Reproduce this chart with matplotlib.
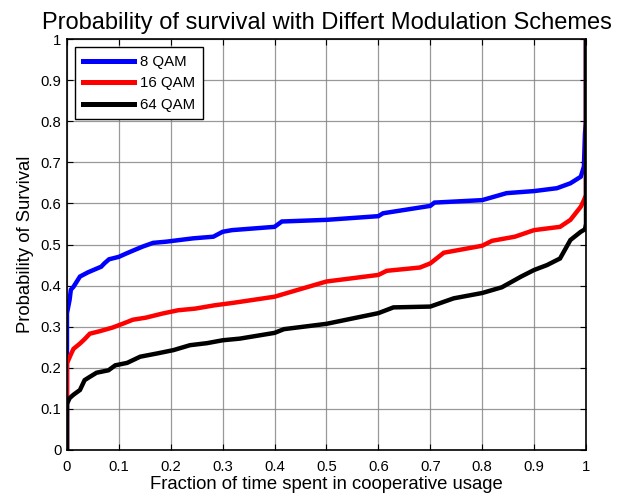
import numpy as np
import matplotlib
matplotlib.use("Agg")
import matplotlib.pyplot as plt

plt.rcParams['font.family'] = ['Liberation Sans', 'DejaVu Sans']

# survival curves
x_8qam = [0, 0, 0.005, 0.0075, 0.0125, 0.025, 0.04, 0.051, 0.066, 0.072, 0.081, 0.1,
          0.114, 0.127, 0.146, 0.166, 0.192, 0.243, 0.282, 0.3, 0.318, 0.4, 0.414,
          0.5, 0.6, 0.609, 0.7, 0.708, 0.8, 0.847, 0.9, 0.944, 0.97, 0.99, 0.996,
          0.998, 1, 1]
y_8qam = [0, 0.333, 0.365, 0.39, 0.397, 0.422, 0.432, 0.438, 0.446, 0.454, 0.464, 0.470,
          0.478, 0.485, 0.495, 0.504, 0.507, 0.515, 0.519, 0.531, 0.535, 0.543, 0.556,
          0.560, 0.569, 0.576, 0.594, 0.602, 0.608, 0.625, 0.630, 0.637, 0.649, 0.665, 0.69,
          0.77, 0.8, 1.0]

x_16qam = [0, 0, 0.008, 0.0125, 0.025, 0.035, 0.044, 0.063, 0.088, 0.107, 0.127, 0.152,
           0.184, 0.214, 0.247, 0.284, 0.32, 0.4, 0.443, 0.5, 0.6, 0.616, 0.68, 0.7,
           0.726, 0.8, 0.819, 0.863, 0.9, 0.95, 0.97, 0.99, 0.996, 1, 1]
y_16qam = [0, 0.211, 0.234, 0.246, 0.259, 0.271, 0.283, 0.289, 0.298, 0.307, 0.317, 0.322,
           0.332, 0.340, 0.344, 0.352, 0.358, 0.373, 0.389, 0.410, 0.426, 0.436, 0.444, 0.454,
           0.480, 0.497, 0.509, 0.519, 0.535, 0.543, 0.560, 0.592, 0.608, 0.62, 1.0]

x_64qam = [0, 0, 0.005, 0.012, 0.025, 0.034, 0.044, 0.057, 0.08, 0.093, 0.116, 0.141,
           0.174, 0.205, 0.237, 0.27, 0.3, 0.333, 0.4, 0.418, 0.5, 0.6, 0.629, 0.7,
           0.745, 0.8, 0.838, 0.875, 0.9, 0.925, 0.95, 0.97, 0.99, 0.998, 1, 1]
y_64qam = [0, 0.112, 0.126, 0.134, 0.146, 0.170, 0.178, 0.188, 0.194, 0.206, 0.212, 0.227,
           0.235, 0.243, 0.255, 0.260, 0.267, 0.271, 0.285, 0.294, 0.307, 0.333, 0.347, 0.349,
           0.369, 0.382, 0.396, 0.422, 0.438, 0.450, 0.466, 0.511, 0.531, 0.537, 0.55, 1.0]

labels = ['8 QAM', '16 QAM', '64 QAM']
colors = ['#0000ff', '#ff0000', '#000000']
tick_text = ['0', '0.1', '0.2', '0.3', '0.4', '0.5', '0.6', '0.7', '0.8', '0.9', '1']

fig = plt.figure(figsize=(6.23, 4.99), dpi=100)
ax = fig.add_axes([0.1075, 0.0982, 0.8331, 0.8236])

for xs, ys, lab, c in zip([x_8qam, x_16qam, x_64qam], [y_8qam, y_16qam, y_64qam], labels, colors):
    ax.plot(xs, ys, color=c, lw=3.2, label=lab, solid_joinstyle='miter')

ax.set_xlim(0, 1)
ax.set_ylim(0, 1)
ax.set_xticks(np.arange(0, 1.01, 0.1))
ax.set_yticks(np.arange(0, 1.01, 0.1))
ax.set_xticklabels(tick_text)
ax.set_yticklabels(tick_text)
ax.tick_params(direction='in', top=True, right=True, labelsize=10.7, length=4)
ax.tick_params(axis='x', pad=7)
ax.tick_params(axis='y', pad=4)
ax.grid(True, color='#808080', lw=0.9, alpha=0.8)
for s in ax.spines.values():
    s.set_linewidth(1.2)

ax.set_title('Probability of survival with Differt Modulation Schemes', fontsize=17, pad=7.5)
ax.set_xlabel('Fraction of time spent in cooperative usage', fontsize=13.3, labelpad=2)
ax.set_ylabel('Probability of Survival', fontsize=13.3, labelpad=5)

leg = ax.legend(loc='upper left', fontsize=10.8, fancybox=False, edgecolor='black',
                framealpha=1, borderaxespad=0.55, handlelength=3.4, labelspacing=0.5,
                handletextpad=0.45, borderpad=0.5)
leg.get_frame().set_linewidth(1.0)
for h in leg.get_lines():
    h.set_linewidth(3.6)

fig.savefig('out.png', dpi=100)
